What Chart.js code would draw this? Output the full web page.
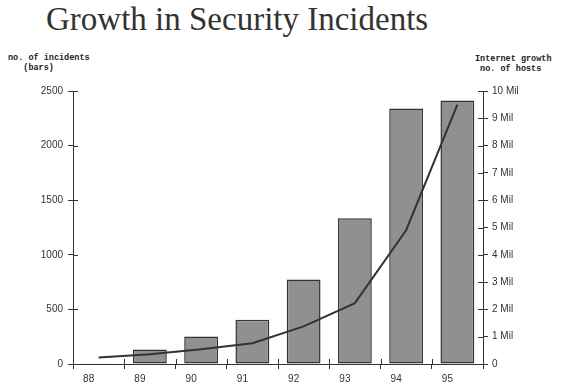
<!DOCTYPE html>
<html>
<head>
<meta charset="utf-8">
<script src="https://cdn.jsdelivr.net/npm/chart.js@4/dist/chart.umd.min.js"></script>
<style>
    body { margin: 0; background: #fff; }
    #wrap { position: relative; width: 562px; height: 391px; }
    #chart { position: absolute; left: 0; top: 0; }
    .lbl { position: absolute; white-space: pre; color: #222; }
    .title { font-family: "Liberation Serif", serif; font-size: 33px; left: 46px; top: 1px; color: #333; }
    .axis { font-family: "Liberation Mono", "DejaVu Sans Mono", monospace; font-weight: bold; font-size: 8.5px; line-height: 10px; }
</style>
</head>
<body>
<div id="wrap">
    <div class="lbl title">Growth in Security Incidents</div>
    <div class="lbl axis" style="left:8px; top:53px;">no. of incidents
   (bars)</div>
    <div class="lbl axis" style="left:475px; top:54px;">Internet growth
 no. of hosts</div>
    <canvas id="chart" width="562" height="391"></canvas>
</div>
<script>
// Data
const years = ['88', '89', '90', '91', '92', '93', '94', '95'];
const incidents = [6, 132, 252, 406, 773, 1334, 2340, 2412];
const hostsMil = [0.24, 0.36, 0.54, 0.76, 1.38, 2.23, 4.9, 9.5];

const INK = '#333';
const tickFont = { family: '"Liberation Sans", Arial, sans-serif', size: 10 };

// draws the inner half of the tick marks so they cross the axis lines
const crossTicks = {
    id: 'crossTicks',
    afterDraw(chart) {
        const ctx = chart.ctx;
        const len = 5;
        ctx.save();
        ctx.strokeStyle = INK;
        ctx.lineWidth = 1;
        ctx.beginPath();

        const y = chart.scales.y;
        y.ticks.forEach(t => {
            const py = Math.round(y.getPixelForValue(t.value)) + 0.5;
            ctx.moveTo(y.right, py);
            ctx.lineTo(y.right + len, py);
        });

        const y1 = chart.scales.y1;
        y1.ticks.forEach(t => {
            const py = Math.round(y1.getPixelForValue(t.value)) + 0.5;
            ctx.moveTo(y1.left - len, py);
            ctx.lineTo(y1.left, py);
        });

        const x = chart.scales.x;
        const step = x.width / years.length;
        for (let i = 1; i < years.length; i++) {
            const px = Math.round(x.left + i * step) + 0.5;
            ctx.moveTo(px, x.top - len);
            ctx.lineTo(px, x.top);
        }
        ctx.stroke();
        ctx.restore();
    }
};

new Chart(document.getElementById('chart'), {
    type: 'bar',
    data: {
        labels: years,
        datasets: [{
            type: 'line',
            label: 'Internet hosts (Mil)',
            data: hostsMil,
            yAxisID: 'y1',
            borderColor: INK,
            borderWidth: 2,
            pointRadius: 0,
            tension: 0,
            fill: false
        }, {
            type: 'bar',
            label: 'Incidents',
            data: incidents,
            yAxisID: 'y',
            backgroundColor: '#909090',
            borderColor: INK,
            borderWidth: 1.5,
            borderSkipped: false,
            barPercentage: 0.66,
            categoryPercentage: 1
        }]
    },
    options: {
        responsive: false,
        animation: false,
        layout: { padding: { top: 91, left: 0, right: 0, bottom: 0 } },
        plugins: {
            legend: { display: false },
            tooltip: { enabled: false }
        },
        scales: {
            x: {
                offset: true,
                afterFit: s => { s.height = 27; },
                grid: { offset: true, drawOnChartArea: false, tickLength: 5, color: INK },
                border: { color: INK, width: 1 },
                ticks: { color: INK, font: tickFont, padding: 4, labelOffset: -10, maxRotation: 0 }
            },
            y: {
                position: 'left',
                min: 0,
                max: 2500,
                afterFit: s => { s.width = 73; },
                grid: { drawOnChartArea: false, tickLength: 5, color: INK },
                border: { color: INK, width: 1 },
                ticks: { stepSize: 500, color: INK, font: tickFont, padding: 5, callback: v => String(v) }
            },
            y1: {
                position: 'right',
                min: 0,
                max: 10,
                afterFit: s => { s.width = 79; },
                grid: { drawOnChartArea: false, tickLength: 5, color: INK },
                border: { color: INK, width: 1 },
                ticks: {
                    stepSize: 1,
                    color: INK,
                    font: tickFont,
                    padding: 4,
                    callback: v => v === 0 ? '0' : v + ' Mil'
                }
            }
        }
    },
    plugins: [crossTicks]
});
</script>
</body>
</html>
